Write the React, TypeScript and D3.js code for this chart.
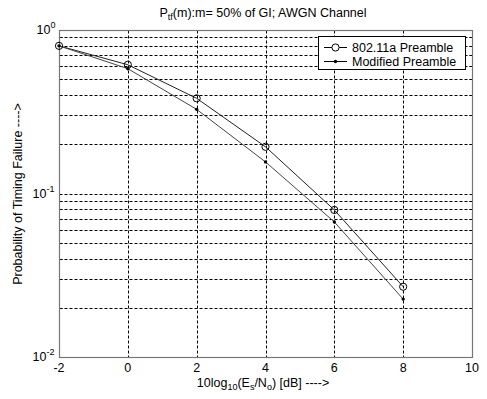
import React from "react";
import * as d3 from "d3";

const snr = [-2, 0, 2, 4, 6, 8];
const preamble80211a = [0.8, 0.613, 0.382, 0.193, 0.0793, 0.0269];
const modifiedPreamble = [0.8, 0.58, 0.327, 0.156, 0.067, 0.0226];
const xTicks = [-2, 0, 2, 4, 6, 8, 10];
const yDecades = [0, -1, -2];

const W = 487;
const H = 399;
const M = { left: 59, right: 15, top: 30, bottom: 42 };
const FONT = "'Liberation Sans', Arial, sans-serif";
const FS = 12.5;
const SUB = 9;

export default function App() {
  const x = d3.scaleLinear().domain([-2, 10]).range([M.left, W - M.right]);
  const y = d3.scaleLog().domain([0.01, 1]).range([H - M.bottom, M.top]);

  // minor grid positions inside each decade
  const minor: number[] = [];
  [0.01, 0.1].forEach((base) => {
    for (let k = 2; k <= 9; k++) minor.push(base * k);
  });

  const line = d3
    .line<number>()
    .x((_, i) => x(snr[i]))
    .y((d) => y(d));

  const px = (v: number) => Math.round(v) + 0.5;
  const x0 = px(x(-2));
  const x1 = px(x(10));
  const y0 = px(y(0.01));
  const y1 = px(y(1));

  return (
    <svg
      width={W}
      height={H}
      style={{ position: "absolute", left: 0, top: 0, background: "#fff" }}
      fontFamily={FONT}
    >
      <rect width={W} height={H} fill="#fff" />

      {/* grid */}
      <g stroke="#000" strokeWidth={1} strokeDasharray="3,2">
        {xTicks.slice(1, -1).map((t) => (
          <line key={"gx" + t} x1={px(x(t))} x2={px(x(t))} y1={y1} y2={y0} />
        ))}
        {[...minor, 0.1].map((v) => (
          <line key={"gy" + v} x1={x0} x2={x1} y1={px(y(v))} y2={px(y(v))} />
        ))}
      </g>

      {/* minor ticks on y */}
      <g stroke="#000" strokeWidth={1}>
        {minor.map((v) => (
          <g key={"t" + v}>
            <line x1={x0} x2={x0 + 3} y1={px(y(v))} y2={px(y(v))} />
            <line x1={x1} x2={x1 - 3} y1={px(y(v))} y2={px(y(v))} />
          </g>
        ))}
      </g>

      {/* axes box */}
      <rect
        x={x0}
        y={y1}
        width={x1 - x0}
        height={y0 - y1}
        fill="none"
        stroke="#777"
        strokeWidth={1.2}
      />

      {/* series */}
      <path d={line(preamble80211a) ?? ""} fill="none" stroke="#222" strokeWidth={1} />
      <path d={line(modifiedPreamble) ?? ""} fill="none" stroke="#444" strokeWidth={1} />
      {preamble80211a.map((v, i) => (
        <circle key={"c" + i} cx={x(snr[i])} cy={y(v)} r={3.6} fill="none" stroke="#000" strokeWidth={1} />
      ))}
      {modifiedPreamble.map((v, i) => (
        <circle key={"d" + i} cx={x(snr[i])} cy={y(v)} r={1.7} fill="#000" />
      ))}

      {/* x tick labels */}
      <g fontSize={FS} textAnchor="middle" fill="#000">
        {xTicks.map((t) => (
          <text key={"xl" + t} x={x(t)} y={y0 + 14}>
            {t}
          </text>
        ))}
      </g>

      {/* y tick labels */}
      <g fontSize={FS} fill="#000">
        {yDecades.map((d) => (
          <text key={"yl" + d} x={x0 - (d < 0 ? 27 : 23)} y={y(Math.pow(10, d)) + 4}>
            10
            <tspan fontSize={SUB} dy={-6}>
              {d}
            </tspan>
          </text>
        ))}
      </g>

      {/* title */}
      <text x={263} y={17} fontSize={FS} textAnchor="middle" fill="#000">
        P<tspan fontSize={SUB} dy={3}>tf</tspan>
        <tspan dy={-3}>(m):m= 50% of GI; AWGN Channel</tspan>
      </text>

      {/* x label */}
      <text x={263} y={387} fontSize={FS} textAnchor="middle" fill="#000">
        10log<tspan fontSize={SUB} dy={3}>10</tspan>
        <tspan dy={-3}>(E</tspan>
        <tspan fontSize={SUB} dy={3}>s</tspan>
        <tspan dy={-3}>/N</tspan>
        <tspan fontSize={SUB} dy={3}>o</tspan>
        <tspan dy={-3}>) [dB] ----&gt;</tspan>
      </text>

      {/* y label */}
      <text
        transform={`translate(22,${(y0 + y1) / 2}) rotate(-90)`}
        fontSize={FS}
        textAnchor="middle"
        fill="#000"
      >
        Probability of Timing Failure ----&gt;
      </text>

      {/* legend */}
      <g>
        <rect x={318.5} y={36.5} width={147} height={33} fill="#fff" stroke="#000" strokeWidth={1} />
        <line x1={324} x2={347} y1={47.5} y2={47.5} stroke="#000" />
        <circle cx={335.5} cy={47.5} r={3.6} fill="#fff" stroke="#000" />
        <text x={352} y={51.5} fontSize={FS} fill="#000">
          802.11a Preamble
        </text>
        <line x1={324} x2={347} y1={61.5} y2={61.5} stroke="#000" />
        <circle cx={335.5} cy={61.5} r={1.7} fill="#000" />
        <text x={352} y={65.5} fontSize={FS} fill="#000">
          Modified Preamble
        </text>
      </g>
    </svg>
  );
}
